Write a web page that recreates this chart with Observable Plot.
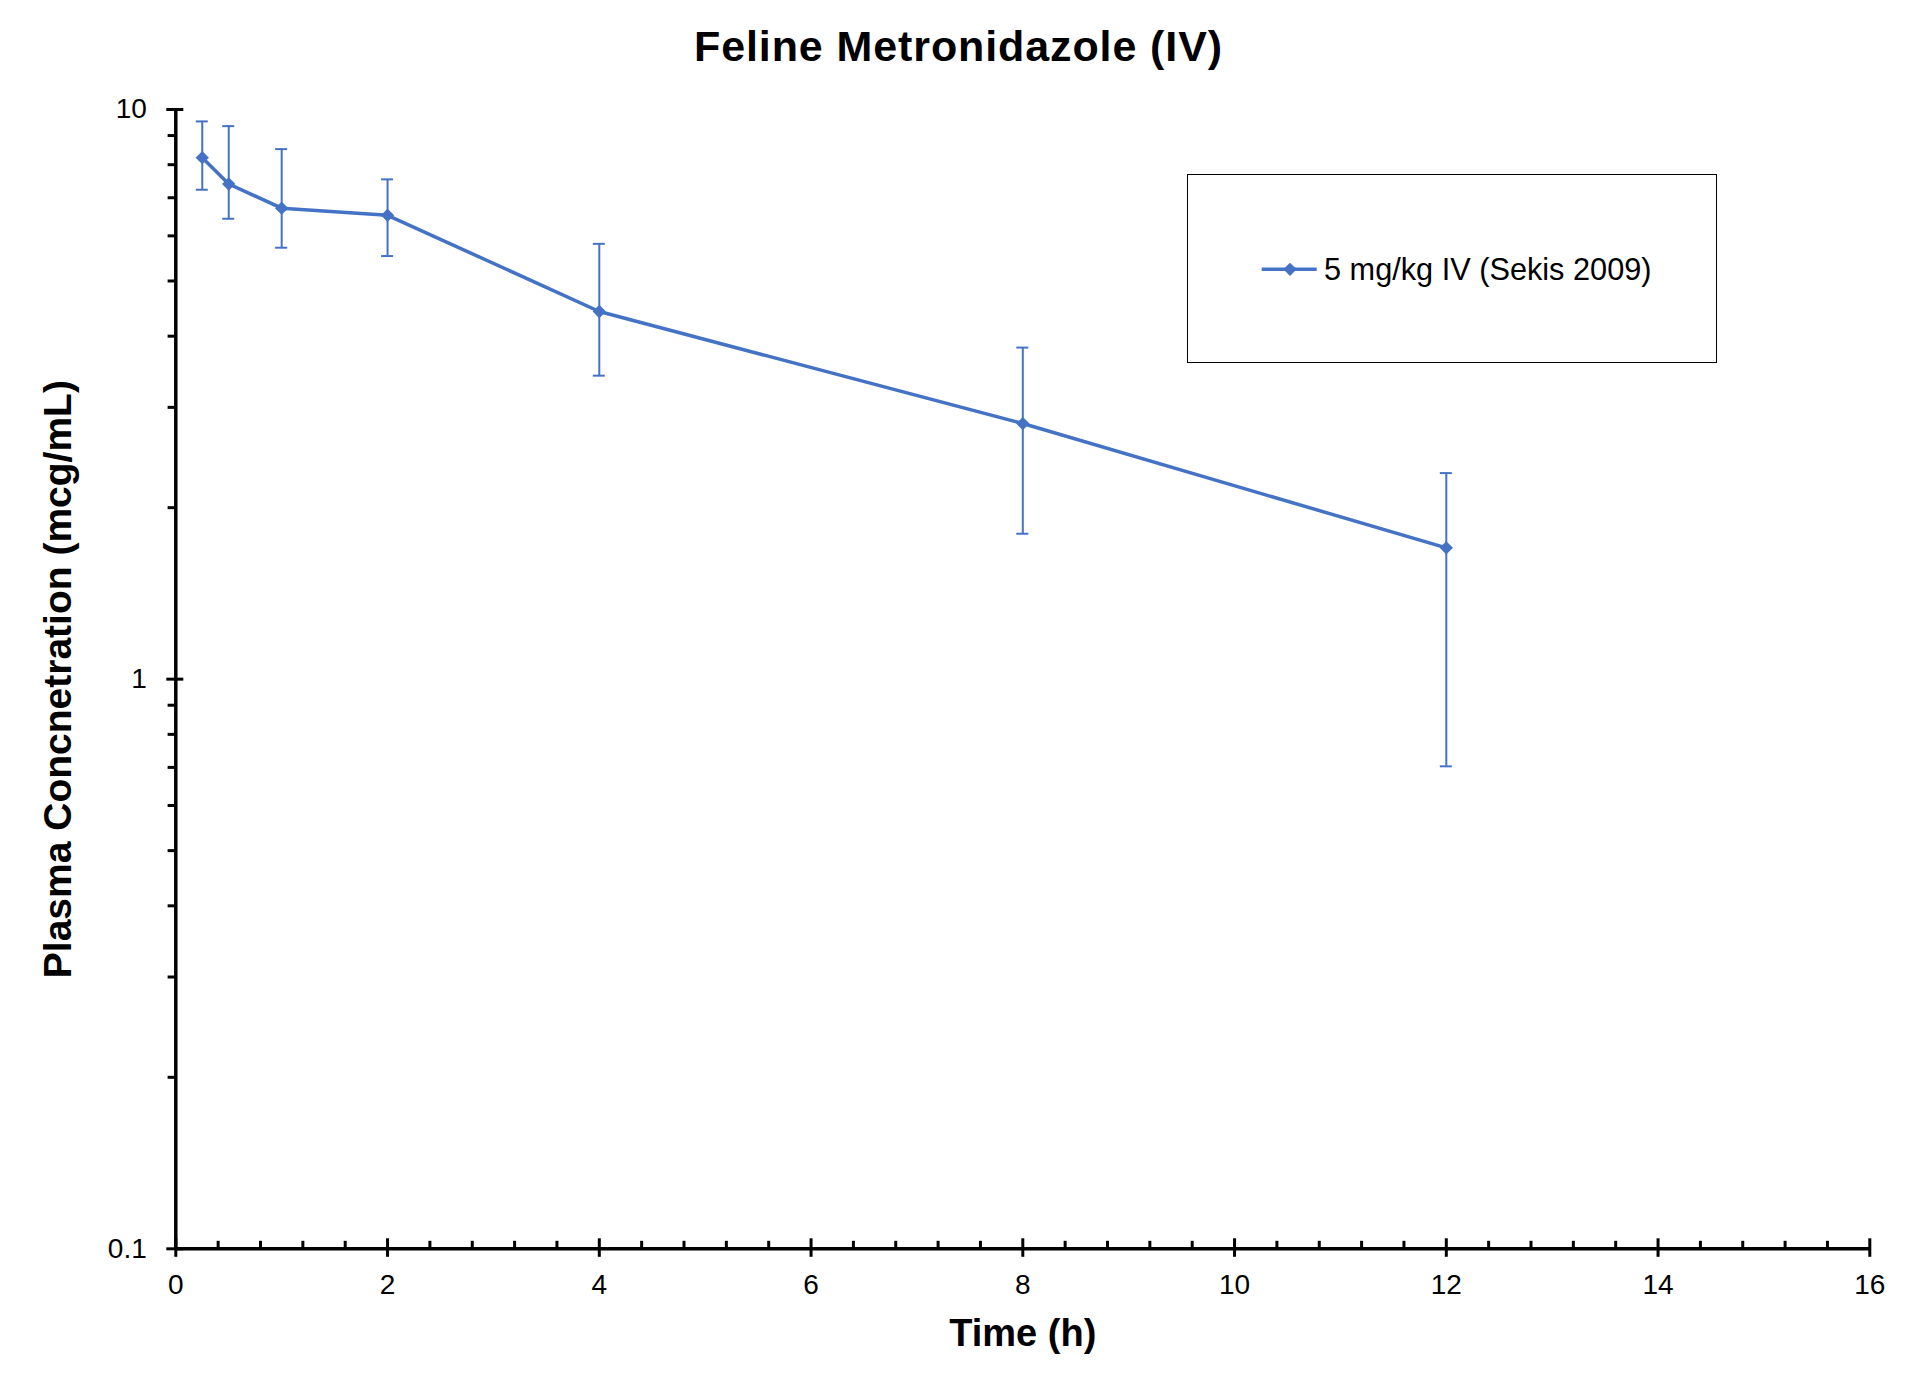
<!DOCTYPE html>
<html>
<head>
<meta charset="utf-8">
<script src="https://cdn.jsdelivr.net/npm/d3@7"></script>
<script src="https://cdn.jsdelivr.net/npm/@observablehq/plot@0.6"></script>
<style>
  body { margin: 0; background: #fff; }
  #wrap { position: relative; width: 1920px; height: 1394px; font-family: "Liberation Sans", Arial, sans-serif; color: #000; }
  #title { position: absolute; left: 0; top: 25px; width: 1917px; text-align: center; font-size: 43px; line-height: 43px; font-weight: bold; letter-spacing: 0.9px; }
  #legend { position: absolute; left: 1187px; top: 174px; width: 530px; height: 189px; border: 1.5px solid #000; box-sizing: border-box; background: #fff; }
  #legend svg { position: absolute; left: -1.5px; top: -1.5px; overflow: visible; }
</style>
</head>
<body>
<div id="wrap">
  <div id="chart"></div>
  <div id="title"></div>
  <div id="legend"></div>
</div>
<script>
const titleText = "Feline Metronidazole (IV)";
const xLabel = "Time (h)";
const yLabel = "Plasma Concnetration (mcg/mL)";
const seriesName = "5 mg/kg IV (Sekis 2009)";

const time = [0.25, 0.5, 1, 2, 4, 8, 12];
const conc = [8.23, 7.40, 6.71, 6.52, 4.42, 2.81, 1.70];
const upper = [9.53, 9.35, 8.52, 7.54, 5.81, 3.82, 2.30];
const lower = [7.23, 6.43, 5.72, 5.53, 3.41, 1.80, 0.703];

const xMajor = [0, 2, 4, 6, 8, 10, 12, 14, 16];
const xMinor = [0.4, 0.8, 1.2, 1.6, 2.4, 2.8, 3.2, 3.6, 4.4, 4.8, 5.2, 5.6, 6.4, 6.8, 7.2, 7.6, 8.4, 8.8, 9.2, 9.6, 10.4, 10.8, 11.2, 11.6, 12.4, 12.8, 13.2, 13.6, 14.4, 14.8, 15.2, 15.6];
const yMajor = [0.1, 1, 10];
const yTickLabels = ["0.1", "1", "10"];
const yMinor = [0.2, 0.3, 0.4, 0.5, 0.6, 0.7, 0.8, 0.9, 2, 3, 4, 5, 6, 7, 8, 9];

const blue = "#4472C4";
const data = time.map((t, i) => ({t, c: conc[i], hi: upper[i], lo: lower[i]}));
const font = '"Liberation Sans", Arial, sans-serif';

const chart = Plot.plot({
  width: 1920,
  height: 1394,
  marginLeft: 175.3,
  marginRight: 50.7,
  marginTop: 109,
  marginBottom: 145.7,
  style: {fontFamily: font, background: "#fff", color: "#000"},
  x: {domain: [0, 16], axis: null},
  y: {type: "log", domain: [0.1, 10], axis: null},
  marks: [
    // tick labels
    Plot.text(xMajor, {x: d => d, frameAnchor: "bottom", text: d => String(d), dy: 25.7, lineAnchor: "top", textAnchor: "middle", fontSize: 28, fill: "#000"}),
    Plot.text(yMajor, {y: d => d, frameAnchor: "left", text: (d, i) => yTickLabels[i], dx: -29, lineAnchor: "middle", textAnchor: "end", fontSize: 28, fill: "#000"}),
    // axis lines
    Plot.ruleX([0], {x: d => d, stroke: "#000", strokeWidth: 3.5}),
    Plot.ruleY([0.1], {y: d => d, stroke: "#000", strokeWidth: 3.5}),
    // x ticks
    Plot.ruleX(xMajor, {x: d => d, y1: 0.1, y2: 0.1, insetTop: -10, insetBottom: -8.5, stroke: "#000", strokeWidth: 3}),
    Plot.ruleX(xMinor, {x: d => d, y1: 0.1, y2: 0.1, insetTop: -7.5, insetBottom: 0, stroke: "#000", strokeWidth: 3}),
    // y ticks
    Plot.ruleY(yMajor, {y: d => d, x1: 0, x2: 0, insetLeft: -9, insetRight: -8, stroke: "#000", strokeWidth: 3}),
    Plot.ruleY(yMinor, {y: d => d, x1: 0, x2: 0, insetLeft: -7.7, insetRight: 0, stroke: "#000", strokeWidth: 3}),
    // error bars
    Plot.ruleX(data, {x: "t", y1: "lo", y2: "hi", stroke: blue, strokeWidth: 2}),
    Plot.ruleY(data, {y: "hi", x1: "t", x2: "t", insetLeft: -6, insetRight: -6, stroke: blue, strokeWidth: 2}),
    Plot.ruleY(data, {y: "lo", x1: "t", x2: "t", insetLeft: -6, insetRight: -6, stroke: blue, strokeWidth: 2}),
    // series
    Plot.line(data, {x: "t", y: "c", stroke: blue, strokeWidth: 3.5}),
    Plot.dot(data, {x: "t", y: "c", symbol: "diamond2", r: 6, fill: blue, stroke: "none"}),
    // axis titles
    Plot.text([xLabel], {frameAnchor: "bottom", text: d => d, dy: 96.7, lineAnchor: "bottom", textAnchor: "middle", fontSize: 38, fontWeight: "bold", fill: "#000"}),
    Plot.text([yLabel], {frameAnchor: "left", text: d => d, dx: -117, rotate: -90, lineAnchor: "middle", textAnchor: "middle", fontSize: 39, fontWeight: "bold", fill: "#000"})
  ]
});
document.getElementById("chart").appendChild(chart);

document.getElementById("title").textContent = titleText;

// legend
const lw = 530, lh = 189;
const lsvg = d3.select("#legend").append("svg").attr("width", lw).attr("height", lh);
const ly = 95.3;
lsvg.append("line").attr("x1", 74.7).attr("x2", 129.7).attr("y1", ly).attr("y2", ly)
  .attr("stroke", blue).attr("stroke-width", 3.5);
lsvg.append("path").attr("d", d3.symbol(d3.symbolDiamond2, Math.PI * 36)()).attr("transform", `translate(103,${ly})`).attr("fill", blue);
lsvg.append("text").attr("x", 137).attr("y", 106).attr("font-size", 30.7)
  .attr("font-family", font).attr("fill", "#000").text(seriesName);
</script>
</body>
</html>
